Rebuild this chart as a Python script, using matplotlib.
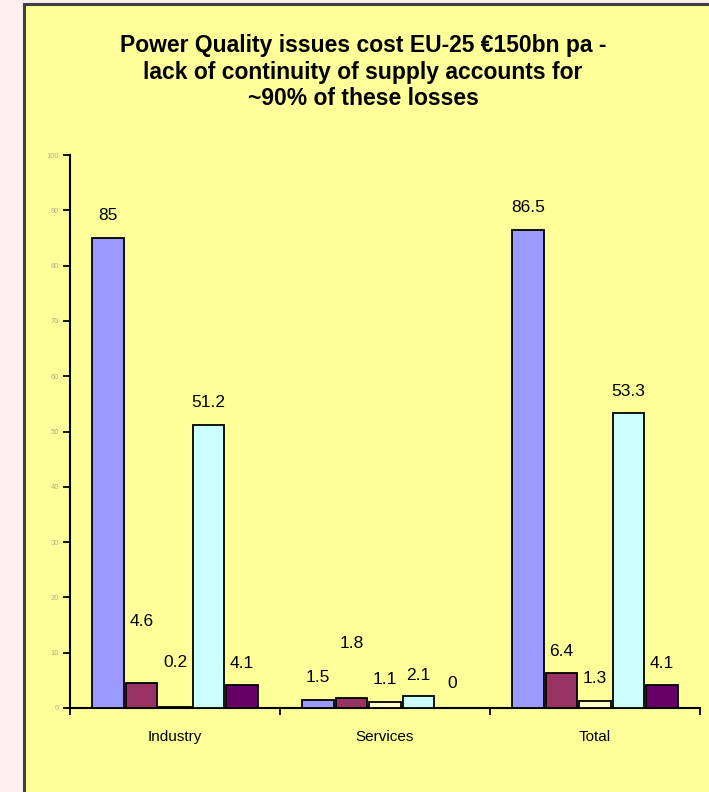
import matplotlib
matplotlib.use("Agg")
import matplotlib.pyplot as plt
import matplotlib.patches as patches
import numpy as np

plt.rcParams['font.family'] = ['Liberation Sans', 'DejaVu Sans']

# Data
categories = ["Industry", "Services", "Total"]
series_1 = [85, 1.5, 86.5]
series_2 = [4.6, 1.8, 6.4]
series_3 = [0.2, 1.1, 1.3]
series_4 = [51.2, 2.1, 53.3]
series_5 = [4.1, 0, 4.1]
yticks = [0, 10, 20, 30, 40, 50, 60, 70, 80, 90, 100]

all_series = [series_1, series_2, series_3, series_4, series_5]
colors = ['#9999ff', '#993366', '#ffffcc', '#ccffff', '#660066']
# label lift above bar top (pixels), same layout as the source
label_lift = [
    [22, 22, 22],
    [61, 55, 21],
    [44, 22, 22],
    [22, 21, 22],
    [22, 25, 22],
]

fig = plt.figure(figsize=(7.09, 7.92), dpi=100)
fig.patch.set_facecolor('#fdeef0')

# yellow panel behind the chart
panel = patches.Rectangle((24 / 709, -0.02), 1.0, (792 - 4) / 792 + 0.02,
                          transform=fig.transFigure, facecolor='#ffff99',
                          edgecolor='#404040', linewidth=2.2, zorder=0)
fig.patches.append(panel)

fig.text(363 / 709, 1 - 72 / 792,
         "Power Quality issues cost EU-25 €150bn pa -\n"
         "lack of continuity of supply accounts for\n"
         "~90% of these losses",
         ha='center', va='center', fontsize=16.5, fontweight='bold',
         linespacing=1.2, zorder=2)

ax = fig.add_axes([70 / 709, 84 / 792, 630 / 709, 553 / 792])
ax.set_zorder(2)
ax.patch.set_visible(False)

x = np.arange(len(categories)) + 0.5
bw = 0.16
for i, (vals, c) in enumerate(zip(all_series, colors)):
    xpos = x + (i - 2) * bw
    ax.bar(xpos, vals, width=bw * 0.94, color=c, edgecolor='black',
           linewidth=1.3, zorder=3)
    for j, v in enumerate(vals):
        ax.annotate(f"{v:g}", (xpos[j], v), xytext=(0, label_lift[i][j]),
                    textcoords='offset pixels', ha='center', va='center',
                    fontsize=12.5, zorder=4)

ax.set_xlim(0, 3)
ax.set_ylim(0, 100)
ax.set_yticks(yticks)
ax.tick_params(axis='y', labelsize=5.5, labelcolor='#b0b088', length=5,
               width=1.3, direction='out', pad=3)

ax.set_xticks([0, 1, 2, 3])
ax.set_xticklabels([])
ax.set_xticks(x, minor=True)
ax.set_xticklabels(categories, minor=True)
ax.tick_params(axis='x', which='major', length=5, width=1.3, direction='out')
ax.tick_params(axis='x', which='minor', length=0, labelsize=11, pad=16)

for s in ['top', 'right']:
    ax.spines[s].set_visible(False)
for s in ['left', 'bottom']:
    ax.spines[s].set_linewidth(1.5)

fig.savefig("out.png", dpi=100, facecolor=fig.get_facecolor())
